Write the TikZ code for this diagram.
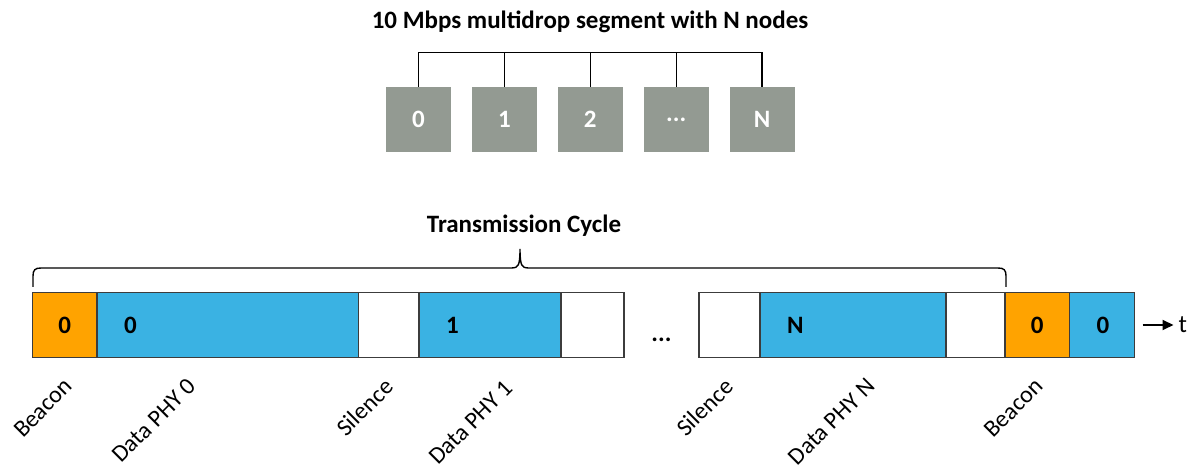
\documentclass[tikz,border=0pt]{standalone}
\usepackage{fontspec}
\setmainfont{Carlito}
\usetikzlibrary{arrows.meta,positioning}
\definecolor{beaconorange}{HTML}{FFA300}
\definecolor{phyblue}{HTML}{3AB2E3}
\definecolor{nodegray}{HTML}{939A92}
\definecolor{rimgray}{HTML}{3C3C3C}

\begin{document}
\begin{tikzpicture}[x=1pt,y=1pt,
    node distance=0pt,
    slot/.style={draw=rimgray,line width=1.6pt,outer sep=0pt,minimum height=65pt,
      inner sep=0pt,font=\fontsize{25}{29}\selectfont\bfseries},
    beacon/.style={slot,fill=beaconorange,minimum width=64.5pt},
    data/.style={slot,fill=phyblue,text width=#1,align=left,inner xsep=27pt},
    silence/.style={slot,fill=white,minimum width=#1},
    station/.style={fill=nodegray,minimum width=65pt,minimum height=65pt,inner sep=0pt,
      text=white,font=\fontsize{25}{29}\selectfont\bfseries},
    lbl/.style={anchor=east,rotate=45,inner sep=0pt,font=\fontsize{24}{28}\selectfont},
    heading/.style={font=\fontsize{25}{29}\selectfont\bfseries},
    bus/.style={draw=black,line width=1.4pt},
    brace/.style={draw=black,line width=1.4pt},
    arrow/.style={-{Triangle[length=11pt,width=10pt]},draw=black,line width=1.8pt}
  ]
  \useasboundingbox (0,0) rectangle (1190,470);

  \node[heading] (segment) at (590,448) {10 Mbps multidrop segment with N nodes};
  \node[station] (st0) at (418.5,350.5) {0};
  \node[station,right=20.5pt of st0] (st1) {1};
  \node[station,right=20.5pt of st1] (st2) {2};
  \node[station,right=20.5pt of st2] (stdots) {...};
  \node[station,right=20.5pt of stdots] (stN) {N};
  \coordinate (busL) at ([yshift=34pt]st0.north);
  \draw[bus] (st0.north) -- (busL) -| (stN.north);
  \foreach \s in {st1,st2,stdots}
    \draw[bus] (\s.north) -- (\s.north |- busL);

  \node[beacon] (beacon0) at (64.75,145) {0};
  \node[data=207.5pt,right=of beacon0] (phy0) {0};
  \node[silence=60.5pt,right=of phy0] (sil0) {};
  \node[data=88pt,right=of sil0] (phy1) {1};
  \node[silence=63pt,right=of phy1] (sil1) {};
  \node[silence=61pt,right=75pt of sil1] (sil2) {};
  \node[data=132pt,right=of sil2] (phyN) {N};
  \node[silence=59pt,right=of phyN] (sil3) {};
  \node[beacon,right=of sil3] (beacon1) {0};
  \node[data=11pt,right=of beacon1] (phyZ) {0};
  \node[heading] (gap) at ([xshift=37.5pt,yshift=-15pt]sil1.east) {...};
  \node[inner sep=0pt,font=\fontsize{25}{29}\selectfont,right=44pt of phyZ] (t) {t};
  \draw[arrow,shorten <=8pt,shorten >=5pt] (phyZ.east) -- (t.west);

  \draw[brace] (33,183) -- (33,194) .. controls (33,200) and (35,202) .. (41,202)
    -- (512,202) .. controls (518,202) and (520,204) .. (520,221)
    .. controls (520,204) and (522,202) .. (528,202)
    -- (998,202) .. controls (1004,202) and (1006,200) .. (1006,194) -- (1006,183);
  \node[heading] (cycle) at (524,244) {Transmission Cycle};

  \node[lbl] at ([xshift=36pt,yshift=-25pt]beacon0.south west) {Beacon};
  \node[lbl] at ([xshift=95pt,yshift=-25pt]phy0.south west) {Data PHY 0};
  \node[lbl] at ([xshift=30.5pt,yshift=-25pt]sil0.south west) {Silence};
  \node[lbl] at ([xshift=90pt,yshift=-27pt]phy1.south west) {Data PHY 1};
  \node[lbl] at ([xshift=30pt,yshift=-25pt]sil2.south west) {Silence};
  \node[lbl] at ([xshift=111pt,yshift=-25pt]phyN.south west) {Data PHY N};
  \node[lbl] at ([xshift=34pt,yshift=-25pt]beacon1.south west) {Beacon};
\end{tikzpicture}
\end{document}
